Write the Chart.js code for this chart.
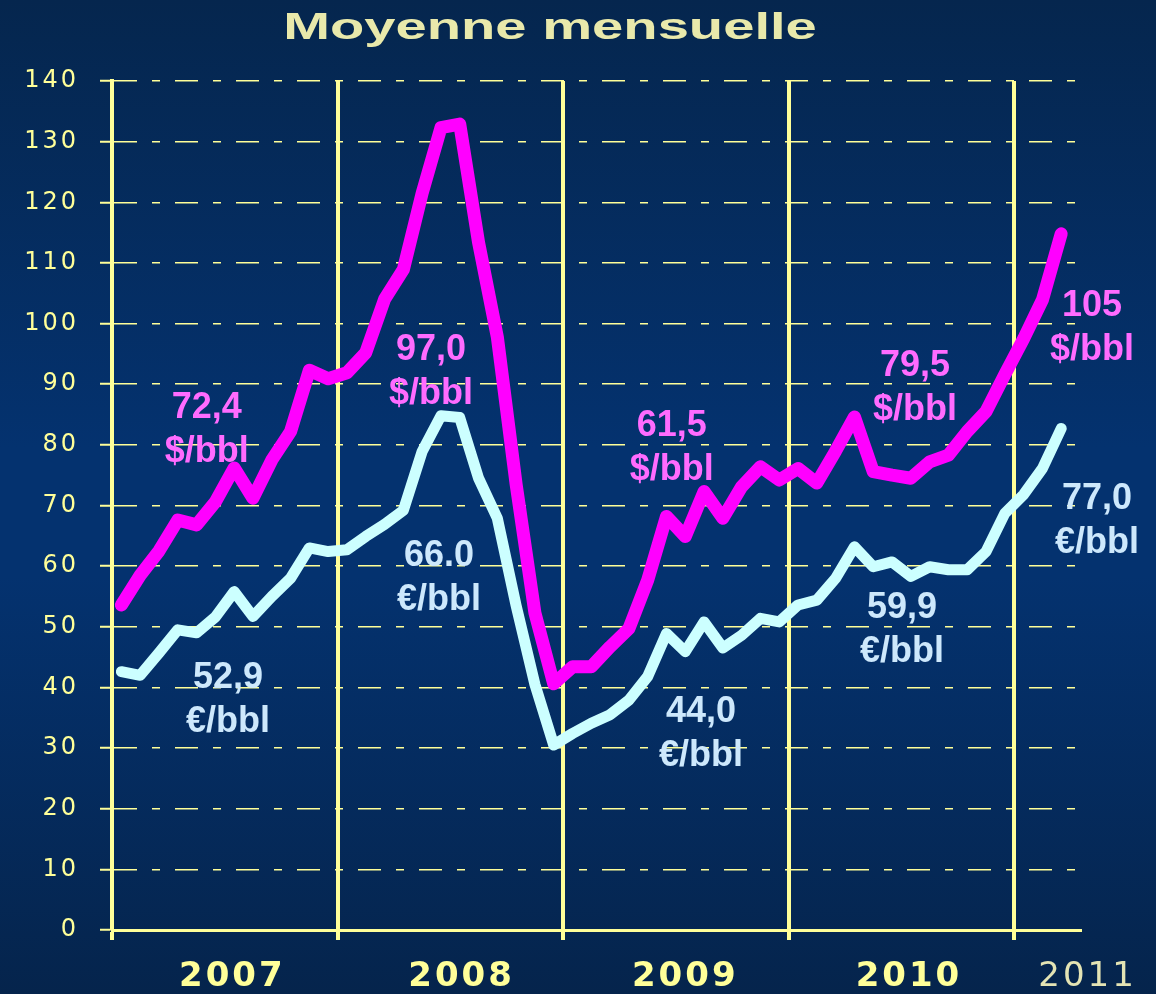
<!DOCTYPE html>
<html>
<head>
<meta charset="utf-8">
<script src="https://cdn.jsdelivr.net/npm/chart.js@4"></script>
<style>
  html, body { margin: 0; padding: 0; }
  body {
    width: 1156px; height: 994px; overflow: hidden;
    background: linear-gradient(to bottom, #05264e 0%, #04326f 45%, #04326f 58%, #05244c 100%);
  }
  canvas { display: block; }
</style>
</head>
<body>
<canvas id="brent-chart" width="1156" height="994"></canvas>
<script>
// Brent : moyenne mensuelle, janv. 2007 -> mars 2011
var months = [
  '01/2007', '02/2007', '03/2007', '04/2007', '05/2007', '06/2007', '07/2007', '08/2007', '09/2007', '10/2007', '11/2007', '12/2007',
  '01/2008', '02/2008', '03/2008', '04/2008', '05/2008', '06/2008', '07/2008', '08/2008', '09/2008', '10/2008', '11/2008', '12/2008',
  '01/2009', '02/2009', '03/2009', '04/2009', '05/2009', '06/2009', '07/2009', '08/2009', '09/2009', '10/2009', '11/2009', '12/2009',
  '01/2010', '02/2010', '03/2010', '04/2010', '05/2010', '06/2010', '07/2010', '08/2010', '09/2010', '10/2010', '11/2010', '12/2010',
  '01/2011', '02/2011', '03/2011'
];

// $/bbl
var usd = [
  53.6, 58.5, 62.5, 67.6, 66.8, 70.6, 76.2, 71.2, 77.5, 82.2, 92.3, 90.9,
  91.9, 95.2, 104.0, 108.9, 121.5, 132.3, 132.9, 113.4, 97.8, 73.5, 52.3, 40.6,
  43.4, 43.4, 46.7, 49.7, 57.7, 68.2, 64.9, 72.3, 67.9, 73.1, 76.4, 74.2,
  76.1, 73.7, 79.0, 84.6, 75.6, 75.0, 74.5, 77.2, 78.3, 82.2, 85.5, 91.6,
  97.5, 103.9, 114.8
];

// €/bbl
var eur = [
  42.6, 42.0, 45.7, 49.5, 49.0, 51.6, 55.8, 51.7, 55.0, 58.0, 63.0, 62.4,
  62.7, 64.9, 66.9, 69.2, 78.9, 84.8, 84.5, 74.5, 67.9, 53.5, 40.5, 30.5,
  32.4, 34.1, 35.5, 37.9, 41.8, 48.9, 45.9, 50.8, 46.5, 48.6, 51.4, 50.8,
  53.6, 54.4, 58.0, 63.2, 59.9, 60.7, 58.3, 59.9, 59.4, 59.4, 62.4, 68.7,
  71.8, 76.1, 82.7
];

var years = ['2007', '2008', '2009', '2010', '2011'];
var yearStarts = [-0.5, 11.5, 23.5, 35.5, 47.5];   // limites entre les années (en mois)
var yearLabelAt = [5.9, 18.1, 30.0, 41.9, 51.4];

var titleText = 'Moyenne mensuelle';

// étiquettes : [texte, unité] et position en (mois, valeur)
var noteTexts = [
  ['72,4', '$/bbl'], ['97,0', '$/bbl'], ['61,5', '$/bbl'], ['79,5', '$/bbl'], ['105', '$/bbl'],
  ['52,9', '€/bbl'], ['66.0', '€/bbl'], ['44,0', '€/bbl'], ['59,9', '€/bbl'], ['77,0', '€/bbl']
];
var noteAt = [
  [4.54, 86.1], [16.47, 95.6], [29.28, 83.1], [42.22, 93.0], [51.64, 102.9],
  [5.67, 41.6], [16.9, 61.7], [30.84, 35.9], [41.53, 53.1], [51.9, 71.1]
];
var noteSeries = ['usd', 'usd', 'usd', 'usd', 'usd', 'eur', 'eur', 'eur', 'eur', 'eur'];

var YELLOW = '#ffff99';
var noteColors = { usd: '#ff6bff', eur: '#cde8fc' };

Chart.defaults.font.family = '"DejaVu Sans", sans-serif';

function toPoints(values) {
  return values.map(function (v, i) { return { x: i, y: v, label: months[i] }; });
}

// les libellés d'axes de l'original sont étirés : on les espace un peu
var spacingPlugin = {
  id: 'espacement',
  beforeDraw: function (chart) { chart.ctx.letterSpacing = '3px'; },
  afterDraw: function (chart) { chart.ctx.letterSpacing = '0px'; }
};

var titlePlugin = {
  id: 'titre',
  afterDraw: function (chart) {
    var ctx = chart.ctx;
    ctx.save();
    ctx.letterSpacing = '0px';
    ctx.font = 'bold 36px "Liberation Sans", Arial, sans-serif';
    ctx.fillStyle = '#e9e9ab';
    ctx.textAlign = 'center';
    ctx.textBaseline = 'alphabetic';
    ctx.translate(550, 39);
    ctx.scale(1.56, 1);
    ctx.fillText(titleText, 0, 0);
    ctx.restore();
  }
};

var notesPlugin = {
  id: 'notes',
  afterDatasetsDraw: function (chart) {
    var ctx = chart.ctx;
    var xs = chart.scales.x, ys = chart.scales.y;
    ctx.save();
    ctx.letterSpacing = '0px';
    ctx.font = 'bold 36px "Liberation Sans", Arial, sans-serif';
    ctx.textAlign = 'center';
    ctx.textBaseline = 'middle';
    noteTexts.forEach(function (lines, i) {
      var px = xs.getPixelForValue(noteAt[i][0]);
      var py = ys.getPixelForValue(noteAt[i][1]);
      ctx.fillStyle = noteColors[noteSeries[i]];
      ctx.fillText(lines[0], px, py);
      ctx.fillText(lines[1], px, py + 44);
    });
    ctx.restore();
  }
};

function isYearStart(v) {
  return yearStarts.indexOf(v) !== -1;
}

new Chart(document.getElementById('brent-chart'), {
  type: 'line',
  data: {
    datasets: [
      {
        label: '$/bbl',
        data: toPoints(usd),
        borderColor: '#ff00ff',
        backgroundColor: '#ff00ff',
        borderWidth: 13,
        borderJoinStyle: 'round',
        borderCapStyle: 'round',
        pointRadius: 0,
        tension: 0
      },
      {
        label: '€/bbl',
        data: toPoints(eur),
        borderColor: '#ccffff',
        backgroundColor: '#ccffff',
        borderWidth: 11,
        borderJoinStyle: 'round',
        borderCapStyle: 'round',
        pointRadius: 0,
        tension: 0
      }
    ]
  },
  options: {
    responsive: false,
    animation: false,
    layout: { padding: { left: 0, right: 76, top: 81, bottom: 0 } },
    plugins: {
      legend: { display: false },
      tooltip: { enabled: false }
    },
    scales: {
      x: {
        type: 'linear',
        min: -0.5,
        max: 51,
        afterBuildTicks: function (scale) {
          scale.ticks = yearStarts.concat(yearLabelAt)
            .sort(function (a, b) { return a - b; })
            .map(function (v) { return { value: v }; });
        },
        afterFit: function (scale) { scale.height = 64; },
        grid: {
          color: function (ctx) { return ctx.tick && isYearStart(ctx.tick.value) ? YELLOW : 'rgba(0,0,0,0)'; },
          tickColor: function (ctx) { return ctx.tick && isYearStart(ctx.tick.value) ? YELLOW : 'rgba(0,0,0,0)'; },
          lineWidth: 4,
          tickWidth: 4,
          tickLength: 10
        },
        border: { display: true, color: YELLOW, width: 3 },
        ticks: {
          autoSkip: false,
          maxRotation: 0,
          padding: 17,
          callback: function (value) {
            var k = yearLabelAt.indexOf(value);
            return k === -1 ? '' : years[k];
          },
          color: function (ctx) {
            return ctx.tick && ctx.tick.value === yearLabelAt[4] ? '#e4e4b4' : YELLOW;
          },
          font: function (ctx) {
            if (ctx.tick && ctx.tick.value === yearLabelAt[4]) {
              return { size: 34, weight: 'normal' };
            }
            return { size: 34, weight: 'bold' };
          }
        }
      },
      y: {
        min: 0,
        max: 140,
        afterFit: function (scale) { scale.width = 112; },
        grid: {
          color: YELLOW,
          lineWidth: 1.5,
          borderDash: [23, 15, 8, 15],
          tickColor: YELLOW,
          tickWidth: 2,
          tickLength: 12,
          tickBorderDash: []
        },
        border: { display: true, color: YELLOW, width: 4, dash: [23, 15, 8, 15] },
        ticks: {
          stepSize: 10,
          padding: 21,
          color: YELLOW,
          font: { size: 24 }
        }
      }
    }
  },
  plugins: [spacingPlugin, titlePlugin, notesPlugin]
});
</script>
</body>
</html>
